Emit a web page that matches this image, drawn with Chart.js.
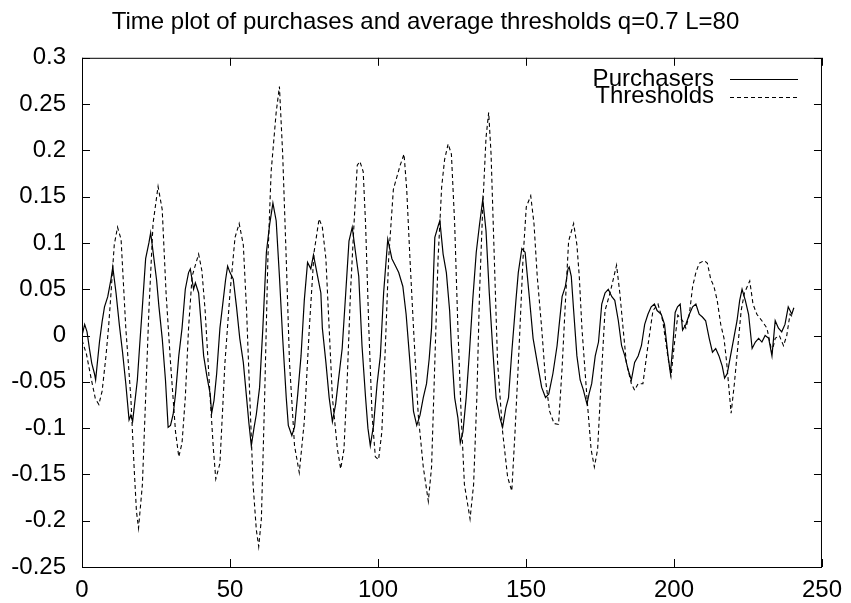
<!DOCTYPE html>
<html>
<head>
<meta charset="utf-8">
<script src="https://cdn.jsdelivr.net/npm/chart.js@4/dist/chart.umd.min.js"></script>
<style>
  body { margin: 0; background: #fff; }
  #wrap { width: 851px; height: 603px; }
</style>
</head>
<body>
<div id="wrap"><canvas id="plot" width="851" height="603"></canvas></div>
<script>
// values
var titleText = 'Time plot of purchases and average thresholds q=0.7 L=80';
var seriesNames = ['Purchasers', 'Thresholds'];
var xTicks = [0, 50, 100, 150, 200, 250];
var yTicks = [-0.25, -0.2, -0.15, -0.1, -0.05, 0, 0.05, 0.1, 0.15, 0.2, 0.25, 0.3];

var purchX = [0, 0.9, 1.7, 2.5, 3.3, 4.2, 4.6, 5.9, 6.8, 7.6, 8.7, 9.8, 10.4, 11.5, 12.6, 13.7, 14.8, 15.9, 16.5, 17.1,
    18.7, 19.5, 20.4, 21.5, 22.6, 23.2, 24.3, 25.2, 26, 27.1, 28.2, 29.1, 29.9, 30.8, 31.6, 32.7, 33.8, 34.9, 36, 36.6,
    37.7, 38.3, 39.4, 40.2, 41.1, 42.2, 43.3, 43.8, 44.6, 45.5, 46.6, 47.7, 48.5, 49.2, 50, 51.1, 52.2, 53.3, 54.5, 55.6,
    56.4, 57.2, 58.1, 58.9, 60, 61.1, 62.3, 63.4, 64.5, 65.6, 66.7, 67.8, 69, 69.7, 70.9, 71.8, 72.9, 74, 75.1, 76.2,
    77.3, 78.2, 79.6, 80.7, 81.2, 82.4, 83.5, 84.6, 85.7, 86.5, 87.9, 89.1, 90.2, 91.3, 92.4, 93.5, 94.6, 95.8, 96.6, 97.4,
    98.5, 99.7, 100.8, 101.9, 103.3, 104.7, 105.8, 107, 108.4, 109.5, 110.8, 112, 113.1, 114.2, 115.3, 116.4, 117.3, 118.1, 119.2, 120.3,
    120.9, 122, 123.1, 124.2, 124.8, 125.9, 127, 127.8, 128.7, 129.8, 130.9, 132, 133.2, 134.3, 135.4, 136.5, 137.6, 138.7, 139.9, 141.2,
    142.1, 143.2, 144.1, 145.2, 146.6, 147.4, 148.6, 149.7, 151, 152.4, 153.8, 155.3, 156.6, 157.7, 159.1, 160.5, 161.1, 162.2, 163.3, 164.2,
    164.6, 165.3, 166.1, 167.2, 168.3, 169.4, 170.6, 171.3, 172.2, 173.4, 174.5, 175.6, 176.7, 177.8, 179, 180, 181.2, 182.3, 183.4, 184.5,
    185.6, 186.7, 187.9, 189, 190.1, 191.2, 192.3, 193.4, 194.3, 195.7, 196.8, 198, 198.8, 199.6, 200.4, 201.2, 202.1, 202.9, 204, 205.2,
    206.3, 207.4, 208.5, 209.6, 210.7, 211.9, 213, 214.1, 215.2, 216.3, 217.1, 218, 219.1, 220.2, 221.3, 222.2, 223, 224.1, 225.2, 226.4,
    227.5, 228.6, 229.7, 230.8, 232, 233.1, 234.2, 235.3, 236.4, 237.5, 238.6, 239.8, 240.5];
var purchY = [0, 0.012, 0.004, -0.014, -0.03, -0.041, -0.048, -0.007, 0.015, 0.031, 0.042, 0.061, 0.074, 0.046, 0.012, -0.018, -0.052, -0.091, -0.086, -0.093,
    -0.048, -0.01, 0.031, 0.083, 0.1, 0.111, 0.083, 0.06, 0.031, -0.003, -0.048, -0.099, -0.097, -0.085, -0.063, -0.022, 0.008, 0.05, 0.068, 0.072,
    0.05, 0.057, 0.046, 0.015, -0.022, -0.044, -0.063, -0.084, -0.07, -0.041, 0.008, 0.038, 0.06, 0.075, 0.068, 0.061, 0.031, -0.003, -0.029, -0.067,
    -0.095, -0.119, -0.1, -0.085, -0.056, 0.008, 0.09, 0.12, 0.143, 0.124, 0.064, -0.003, -0.067, -0.097, -0.108, -0.099, -0.063, -0.022, 0.038, 0.079,
    0.072, 0.087, 0.064, 0.046, 0.008, -0.029, -0.067, -0.093, -0.074, -0.052, -0.014, 0.046, 0.102, 0.117, 0.09, 0.064, -0.011, -0.067, -0.1, -0.119,
    -0.097, -0.052, -0.022, 0.046, 0.104, 0.083, 0.076, 0.068, 0.053, 0.023, -0.029, -0.082, -0.097, -0.086, -0.067, -0.052, -0.025, 0.008, 0.106, 0.118,
    0.124, 0.088, 0.068, 0.027, -0.011, -0.067, -0.089, -0.116, -0.104, -0.067, -0.018, 0.038, 0.09, 0.12, 0.147, 0.113, 0.046, -0.011, -0.067, -0.089,
    -0.099, -0.078, -0.067, -0.018, 0.038, 0.068, 0.094, 0.09, 0.046, -0.003, -0.029, -0.056, -0.067, -0.063, -0.041, -0.011, 0.008, 0.042, 0.053, 0.072,
    0.074, 0.064, 0.027, -0.022, -0.048, -0.059, -0.074, -0.063, -0.052, -0.022, -0.007, 0.034, 0.046, 0.05, 0.042, 0.038, 0.016, -0.011, -0.022, -0.037,
    -0.048, -0.029, -0.022, -0.011, 0.012, 0.023, 0.031, 0.034, 0.027, 0.023, 0.012, -0.022, -0.041, -0.011, 0.025, 0.031, 0.034, 0.006, 0.012, 0.023,
    0.031, 0.034, 0.023, 0.02, 0.016, -0.003, -0.018, -0.014, -0.022, -0.033, -0.046, -0.041, -0.022, -0.003, 0.016, 0.038, 0.05, 0.038, 0.023, -0.014,
    -0.007, -0.003, -0.007, 0, -0.003, -0.022, 0.016, 0.008, 0.004, 0.012, 0.031, 0.023, 0.03];

var threshX = [0, 1.5, 3, 4.5, 5.7, 6.8, 8.1, 9, 9.8, 10.9, 12, 13.2, 14.8, 16.5, 17.6, 18.4, 19.1, 20.4, 21.5, 22.6,
    24, 25.7, 27.1, 28.4, 29.9, 31.6, 32.7, 33.8, 34.9, 36, 37.2, 38.3, 39.4, 40.5, 41.6, 43.3, 44.4, 45.2, 46.6, 48.3,
    50, 51.7, 53.1, 54.5, 55.6, 56.7, 57.8, 58.9, 59.7, 60.6, 61.7, 62.8, 63.9, 65.6, 66.7, 67.8, 69, 70.1, 71.8, 73.4,
    75.1, 76.8, 78.4, 80.1, 81.2, 82.4, 83.5, 84.6, 86.3, 87.4, 88.5, 89.6, 90.7, 91.9, 93, 93.9, 95, 95.8, 96.9, 98,
    99.1, 100.2, 101.3, 102.5, 103.6, 105.2, 107.5, 108.8, 109.7, 110.8, 112, 113.6, 115.3, 117, 118.1, 119.2, 120.3, 121.5, 122.5, 123.7,
    124.8, 125.9, 127, 128.1, 129.2, 131.1, 132.3, 133.4, 134.3, 135.4, 136.5, 137.4, 138.2, 139.3, 140.4, 142.1, 143.8, 145.2, 146.3, 147.7,
    149, 150.1, 151.6, 152.7, 153.8, 155.3, 156.6, 158, 159.5, 161, 162.2, 163.3, 164.4, 166.1, 167.2, 168, 168.9, 170.6, 172, 173.1,
    174.2, 175.4, 176.7, 178.4, 180.6, 181.7, 182.8, 183.9, 185.6, 186.7, 187.9, 189.5, 191.2, 192.9, 194.6, 196.2, 197.9, 199, 200.1, 201.3,
    202.9, 204, 205.2, 206.3, 207.4, 208.5, 210.2, 211.3, 212.4, 213.5, 214.6, 215.8, 216.9, 217.8, 219.3, 220.4, 221.6, 222.7, 223.8, 225.6,
    226.7, 228, 229.7, 231.4, 233.1, 234.2, 235.6, 237, 238.1, 239.2, 240];
var threshY = [-0.005, -0.02, -0.045, -0.068, -0.0745, -0.06, -0.022, 0.01, 0.046, 0.098, 0.117, 0.104, 0.008, -0.067, -0.142, -0.19, -0.208, -0.161, -0.067, 0.027,
    0.121, 0.161, 0.136, 0.046, -0.029, -0.104, -0.131, -0.116, -0.067, 0.008, 0.064, 0.076, 0.088, 0.07, 0.027, -0.067, -0.123, -0.155, -0.138, -0.029,
    0.046, 0.106, 0.121, 0.098, 0.027, -0.067, -0.161, -0.21, -0.228, -0.198, -0.067, 0.083, 0.177, 0.241, 0.269, 0.196, 0.083, -0.029, -0.119, -0.148,
    -0.093, 0.008, 0.09, 0.126, 0.117, 0.083, 0.008, -0.067, -0.123, -0.144, -0.123, -0.048, 0.046, 0.121, 0.184, 0.188, 0.177, 0.121, 0.008, -0.086,
    -0.131, -0.134, -0.104, -0.011, 0.083, 0.158, 0.184, 0.196, 0.158, 0.083, 0.008, -0.086, -0.142, -0.179, -0.142, -0.029, 0.083, 0.16, 0.19, 0.207,
    0.196, 0.121, 0.008, -0.086, -0.161, -0.198, -0.161, -0.067, 0.046, 0.139, 0.214, 0.241, 0.196, 0.083, -0.029, -0.104, -0.153, -0.168, -0.104, -0.011,
    0.083, 0.139, 0.151, 0.121, 0.064, 0.008, -0.048, -0.082, -0.095, -0.096, -0.035, 0.035, 0.102, 0.121, 0.098, 0.064, 0.008, -0.067, -0.123, -0.142,
    -0.123, -0.048, 0.027, 0.046, 0.076, 0.046, 0.008, -0.029, -0.052, -0.059, -0.052, -0.052, -0.011, 0.027, 0.034, 0.016, -0.022, -0.044, -0.01, 0.022,
    0.016, 0.008, 0.023, 0.053, 0.068, 0.078, 0.081, 0.078, 0.061, 0.053, 0.038, 0.012, -0.003, -0.029, -0.084, -0.052, -0.011, 0.027, 0.046, 0.059,
    0.034, 0.023, 0.016, 0.008, -0.018, -0.003, 0, -0.011, 0, 0.023, 0.02];

var fontFam = '"Liberation Sans", Arial, Helvetica, sans-serif';

function toPoints(xs, ys) {
    var pts = [];
    for (let i = 0; i < xs.length; i++) {
        pts.push({x: xs[i], y: ys[i]});
    }
    return pts;
}

// gnuplot style box: frame, inward ticks on all four sides, key at top right
var gnuFrame = {
    id: 'gnuFrame',
    afterDraw: function(chart) {
        var ctx = chart.ctx;
        var a = chart.chartArea;
        var xs = chart.scales.x, ys = chart.scales.y;
        var tl = 8;
        ctx.save();
        ctx.strokeStyle = '#000';
        ctx.lineWidth = 1;
        ctx.strokeRect(a.left + 0.5, a.top + 0.5, a.right - a.left - 1, a.bottom - a.top);
        ctx.beginPath();
        xTicks.forEach(function(v) {
            var px = Math.round(xs.getPixelForValue(v)) + 0.5;
            ctx.moveTo(px, a.bottom); ctx.lineTo(px, a.bottom - tl);
            ctx.moveTo(px, a.top); ctx.lineTo(px, a.top + tl);
        });
        yTicks.forEach(function(v) {
            var py = Math.round(ys.getPixelForValue(v)) + 0.5;
            ctx.moveTo(a.left, py); ctx.lineTo(a.left + tl, py);
            ctx.moveTo(a.right, py); ctx.lineTo(a.right - tl, py);
        });
        ctx.stroke();

        // key
        ctx.font = '24px ' + fontFam;
        ctx.fillStyle = '#000';
        ctx.textAlign = 'right';
        ctx.textBaseline = 'middle';
        var rows = [79, 96.5];
        chart.data.datasets.forEach(function(ds, i) {
            ctx.fillText(ds.label, 714, rows[i]);
            ctx.beginPath();
            ctx.lineWidth = ds.borderWidth;
            ctx.setLineDash(ds.borderDash || []);
            ctx.moveTo(730, Math.round(rows[i]) + 0.5);
            ctx.lineTo(798, Math.round(rows[i]) + 0.5);
            ctx.stroke();
        });
        ctx.restore();
    }
};

var config = {
    type: 'line',
    data: {
        datasets: [{
            label: seriesNames[0],
            data: toPoints(purchX, purchY),
            borderColor: '#000',
            borderWidth: 1.2,
            pointRadius: 0,
            tension: 0,
            fill: false
        }, {
            label: seriesNames[1],
            data: toPoints(threshX, threshY),
            borderColor: '#000',
            borderWidth: 1.1,
            borderDash: [4, 3],
            pointRadius: 0,
            tension: 0,
            fill: false
        }]
    },
    options: {
        responsive: false,
        animation: false,
        devicePixelRatio: 1,
        layout: {
            padding: 0
        },
        plugins: {
            legend: {display: false},
            tooltip: {enabled: false},
            title: {
                display: true,
                text: titleText,
                color: '#000',
                font: {family: fontFam, size: 24, weight: 'normal'},
                padding: {top: 8, bottom: 21}
            }
        },
        scales: {
            x: {
                type: 'linear',
                min: 0,
                max: 250,
                afterBuildTicks: function(s) {
                    s.ticks = xTicks.map(function(v) { return {value: v}; });
                },
                afterFit: function(s) { s.height = 36; },
                ticks: {
                    color: '#000',
                    font: {family: fontFam, size: 24},
                    padding: 9,
                    maxRotation: 0,
                    callback: function(v) { return String(v); }
                },
                grid: {display: false, drawTicks: false},
                border: {display: false}
            },
            y: {
                type: 'linear',
                min: -0.25,
                max: 0.3,
                afterBuildTicks: function(s) {
                    s.ticks = yTicks.map(function(v) { return {value: v}; });
                },
                afterFit: function(s) { s.width = 82; },
                ticks: {
                    color: '#000',
                    font: {family: fontFam, size: 24},
                    padding: 16,
                    callback: function(v) { return String(parseFloat(v.toFixed(2))); }
                },
                grid: {display: false, drawTicks: false},
                border: {display: false}
            },
            // empty strip on the right so the box ends where the reference does
            yRight: {
                position: 'right',
                display: true,
                afterFit: function(s) { s.width = 24; },
                ticks: {display: false},
                grid: {display: false, drawTicks: false},
                border: {display: false}
            }
        }
    },
    plugins: [gnuFrame]
};

var plot = new Chart(document.getElementById('plot'), config);
</script>
</body>
</html>
